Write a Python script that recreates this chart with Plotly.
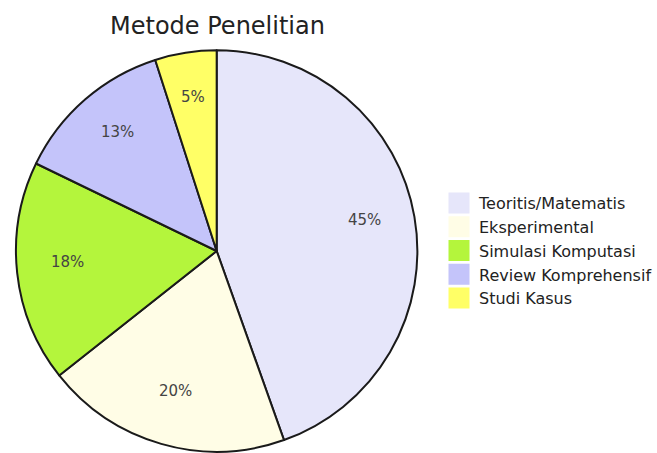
import math
import plotly.graph_objects as go

labels = ["Teoritis/Matematis", "Eksperimental", "Simulasi Komputasi", "Review Komprehensif", "Studi Kasus"]
values = [45, 20, 18, 13, 5]
colors = ["#e6e6fa", "#fffde6", "#b4f53c", "#c4c4fa", "#ffff66"]

W, H = 657, 453
cx, cy, r = 217, 251, 201
label_r = 0.75
label_dy = -5

fig = go.Figure()
fig.add_trace(go.Pie(
    labels=labels, values=values, sort=False, direction="clockwise", rotation=0,
    marker=dict(colors=colors, line=dict(color="#1a1a1a", width=2)),
    textinfo="none", showlegend=False, hoverinfo="label+percent",
    domain=dict(x=[(cx - r) / W, (cx + r) / W], y=[(H - cy - r) / H, (H - cy + r) / H]),
))

# legend entries (swatches) via empty scatter traces
for lab, col in zip(labels, colors):
    fig.add_trace(go.Scatter(
        x=[None], y=[None], mode="markers", name=lab,
        marker=dict(symbol="square", size=16, color=col, line=dict(color=col, width=5)),
    ))

# percentage labels at mid-angle of each slice
total = sum(values)
acc = 0
annotations = []
for v in values:
    mid = (acc + v / 2) / total * 2 * math.pi
    acc += v
    px = cx + label_r * r * math.sin(mid)
    py = cy - label_r * r * math.cos(mid) + label_dy
    annotations.append(dict(
        x=px / W, y=1 - py / H, xref="paper", yref="paper", showarrow=False,
        text=f"{round(v / total * 100)}%", xanchor="center", yanchor="middle",
        font=dict(family="DejaVu Sans", size=15, color="#444444"),
    ))

fig.update_layout(
    width=W, height=H, margin=dict(l=0, r=0, t=0, b=0),
    paper_bgcolor="white", plot_bgcolor="white",
    xaxis=dict(visible=False), yaxis=dict(visible=False),
    title=dict(text="Metode Penelitian", x=217.5 / W, xanchor="center", y=1 - 26 / H, yanchor="middle",
               font=dict(family="DejaVu Sans", size=24, color="#222222")),
    legend=dict(x=440 / W, y=1 - 186 / H, xanchor="left", yanchor="top",
                font=dict(family="DejaVu Sans", size=16, color="#222222"),
                itemwidth=30, tracegroupgap=0, bgcolor="rgba(0,0,0,0)"),
    annotations=annotations,
    font=dict(family="DejaVu Sans"),
)
fig.write_html("out.html")
